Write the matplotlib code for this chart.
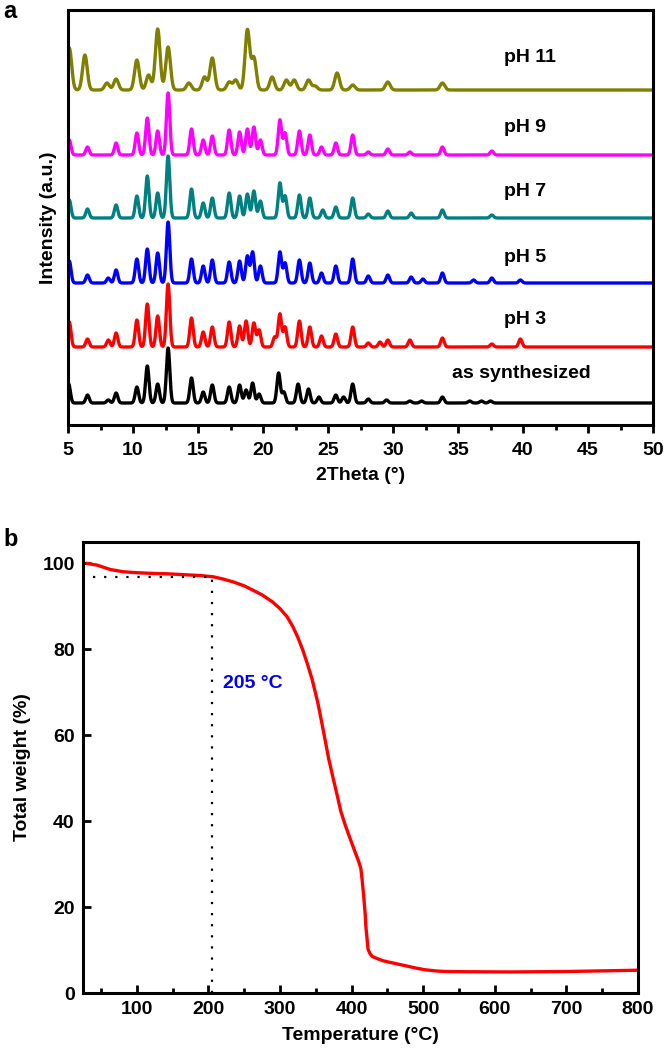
import numpy as np
import matplotlib
matplotlib.use("Agg")
import matplotlib.pyplot as plt
from matplotlib.ticker import MultipleLocator

plt.rcParams['font.family'] = ['Liberation Sans', 'DejaVu Sans']
plt.rcParams['font.weight'] = 'bold'

# ---------------- XRD data (peak positions in 2theta, heights in a.u.) ----------------
labels = ["as synthesized", "pH 3", "pH 5", "pH 7", "pH 9", "pH 11"]
colors = ["#000000", "#ff0000", "#0000ff", "#008080", "#ff00ff", "#808000"]
offsets = [22, 78, 142, 207, 270, 335]
label_y = [52, 106, 168, 233, 297, 368]
label_x = [34.5, 38.5, 38.5, 38.5, 38.5, 38.5]

pos_syn = [5.05, 6.5, 8.1, 8.7, 10.3, 11.1, 11.9, 12.7, 14.5, 15.4, 16.1, 17.4, 18.2, 18.7, 19.2,
           19.7, 21.2, 21.6, 22.7, 23.5, 24.3, 25.6, 26.2, 26.9, 28.1, 29.5, 31.3, 32.2, 33.8,
           35.9, 36.8, 37.5]
h_syn = [19, 8, 3, 10, 16, 37, 19, 55, 25, 11, 18, 16, 18, 13, 20,
         9, 30, 11, 19, 14, 6, 8, 6, 19, 4, 3, 2, 2, 6,
         2, 2, 2]

pos_ph3 = [5.1, 6.5, 8.1, 8.7, 10.3, 11.1, 11.9, 12.7, 14.5, 15.4, 16.1, 17.4, 18.2, 18.7, 19.3,
           19.7, 20.9, 21.3, 21.7, 22.8, 23.6, 24.5, 25.6, 26.9, 28.1, 29.0, 29.6, 31.3, 33.8,
           37.6, 39.8]
h_ph3 = [25, 8, 7, 14, 27, 43, 31, 63, 29, 15, 20, 25, 21, 26, 24,
         17, 10, 33, 20, 26, 20, 11, 13, 20, 4, 5, 7, 7, 9,
         3, 8]

pos_ph5 = [5.1, 6.5, 8.1, 8.7, 10.3, 11.1, 11.9, 12.7, 14.5, 15.4, 16.1, 17.4, 18.2, 18.8, 19.2,
           19.8, 21.3, 21.7, 22.8, 23.6, 24.5, 25.6, 26.9, 28.1, 29.6, 31.4, 32.3, 33.8, 36.2,
           37.6, 39.8]
h_ph5 = [22, 8, 5, 13, 24, 34, 30, 61, 24, 17, 23, 21, 22, 27, 31,
         17, 31, 20, 23, 20, 10, 17, 24, 7, 8, 6, 4, 10, 3,
         5, 3]

pos_ph7 = [5.1, 6.5, 8.7, 10.3, 11.1, 11.9, 12.7, 14.5, 15.4, 16.1, 17.4, 18.2, 18.8, 19.3, 19.8,
           21.3, 21.7, 22.8, 23.6, 24.6, 25.6, 26.9, 28.1, 29.6, 31.4, 33.8, 37.6]
h_ph7 = [18, 9, 13, 22, 42, 25, 62, 29, 15, 20, 25, 22, 24, 27, 17,
         35, 22, 23, 20, 8, 11, 20, 4, 7, 5, 8, 3]

pos_ph9 = [5.1, 6.5, 8.7, 10.3, 11.1, 11.9, 12.7, 14.5, 15.4, 16.1, 17.4, 18.2, 18.8, 19.3, 19.8,
           21.3, 21.7, 22.8, 23.6, 24.5, 25.6, 26.9, 28.1, 29.6, 31.3, 33.8, 37.6]
h_ph9 = [15, 8, 12, 22, 37, 24, 62, 26, 15, 19, 25, 23, 26, 28, 15,
         35, 22, 24, 20, 8, 12, 20, 3, 6, 3, 8, 4]

pos_ph11 = [5.1, 6.3, 8.0, 8.7, 10.3, 11.2, 11.9, 12.7, 14.3, 15.5, 16.1, 17.4, 17.9, 18.8, 19.3,
            20.7, 21.8, 22.4, 23.5, 24.0, 25.7, 26.9, 29.6, 33.8]
h_ph11 = [42, 35, 7, 11, 30, 15, 61, 43, 7, 13, 32, 8, 10, 60, 32,
          13, 10, 10, 10, 4, 17, 5, 8, 7]

peak_pos = [pos_syn, pos_ph3, pos_ph5, pos_ph7, pos_ph9, pos_ph11]
peak_h = [h_syn, h_ph3, h_ph5, h_ph7, h_ph9, h_ph11]
peak_sigma = [0.13, 0.13, 0.13, 0.13, 0.13, 0.18]

# ---------------- TGA data ----------------
tga_T = [31, 45, 63, 80, 95, 120, 142, 165, 188, 207, 220, 235, 250, 262, 275, 290, 300, 310,
         318, 325, 332, 338, 345, 353, 358, 363, 368, 374, 380, 385, 391, 397, 405, 410, 413,
         415, 417, 419, 420, 422, 423, 426, 429, 436, 444, 460, 474, 490, 503, 520, 533, 560,
         622, 700, 800]
tga_W = [100, 99.6, 98.6, 98.1, 97.9, 97.7, 97.6, 97.4, 97.2, 96.9, 96.4, 95.7, 94.8, 93.8, 92.7,
         91.0, 89.5, 87.6, 85.3, 82.8, 79.8, 76.8, 73.0, 67.5, 63.3, 59.0, 54.6, 50.2, 46.0, 42.3,
         39.2, 36.4, 32.8, 30.6, 29.0, 26.0, 22.5, 18.5, 15.5, 12.0, 10.2, 9.1, 8.5, 8.0, 7.5,
         6.9, 6.4, 5.8, 5.4, 5.1, 5.0, 4.95, 4.9, 5.0, 5.3]
onset_T = 205
onset_W = 96.9
baseline_T0 = 39

fig = plt.figure(figsize=(6.64, 10.57), dpi=100)

# ---------------- panel a ----------------
ax1 = fig.add_axes([68/664, 1 - 425/1057, (653-68)/664, (425-10)/1057])
tt = np.linspace(5, 50, 4501)
for pos, h, sig, off, col in zip(peak_pos, peak_h, peak_sigma, offsets, colors):
    y = np.zeros_like(tt)
    for p, a in zip(pos, h):
        y += a * np.exp(-0.5 * ((tt - p) / sig) ** 2)
    ax1.plot(tt, y + off, color=col, lw=2.4, solid_joinstyle='round')
for lab, lx, ly in zip(labels, label_x, label_y):
    ax1.text(lx, ly, lab, fontsize=14, fontweight='bold', va='center', ha='left')
ax1.set_xlim(5, 50)
ax1.set_ylim(0, 415)
ax1.set_yticks([])
ax1.xaxis.set_major_locator(MultipleLocator(5))
ax1.xaxis.set_minor_locator(MultipleLocator(2.5))
ax1.tick_params(axis='x', which='major', direction='out', length=6, width=2, labelsize=14, pad=6)
ax1.tick_params(axis='x', which='minor', direction='out', length=3.5, width=2)
for s in ax1.spines.values():
    s.set_linewidth(2.2)
ax1.set_xlabel("2Theta (°)", fontsize=14, fontweight='bold', labelpad=6)
ax1.set_ylabel("Intensity (a.u.)", fontsize=14, fontweight='bold', labelpad=8)
fig.text(3/664, 1 - 12/1057, "a", fontsize=17, fontweight='bold', va='center', ha='left')

# ---------------- panel b ----------------
ax2 = fig.add_axes([83/664, 1 - 993/1057, (638-83)/664, (993-542)/1057])
ax2.plot(tga_T, tga_W, color='#ff0000', lw=2.4, solid_joinstyle='round')
ax2.plot([baseline_T0, onset_T], [onset_W, onset_W], color='black', lw=1.6, ls=(0, (1, 4)))
ax2.plot([onset_T, onset_T], [0, onset_W], color='black', lw=1.6, ls=(0, (1, 4)))
ax2.text(220, 72, "205 °C", color='#0000ee', fontsize=14, fontweight='bold', va='center', ha='left')
ax2.set_xlim(25, 800)
ax2.set_ylim(0, 105)
ax2.xaxis.set_major_locator(MultipleLocator(100))
ax2.xaxis.set_minor_locator(MultipleLocator(50))
ax2.set_yticks([0, 20, 40, 60, 80, 100])
ax2.tick_params(axis='both', which='major', direction='in', length=6, width=2, labelsize=14, pad=6)
ax2.tick_params(axis='x', which='minor', direction='in', length=3.5, width=2)
ax2.tick_params(top=False, right=False)
for s in ax2.spines.values():
    s.set_linewidth(2.2)
ax2.set_xlabel("Temperature (°C)", fontsize=14, fontweight='bold', labelpad=6)
ax2.set_ylabel("Total weight (%)", fontsize=14, fontweight='bold', labelpad=8)
fig.text(3/664, 1 - 540/1057, "b", fontsize=17, fontweight='bold', va='center', ha='left')

fig.savefig("out.png", dpi=100)
